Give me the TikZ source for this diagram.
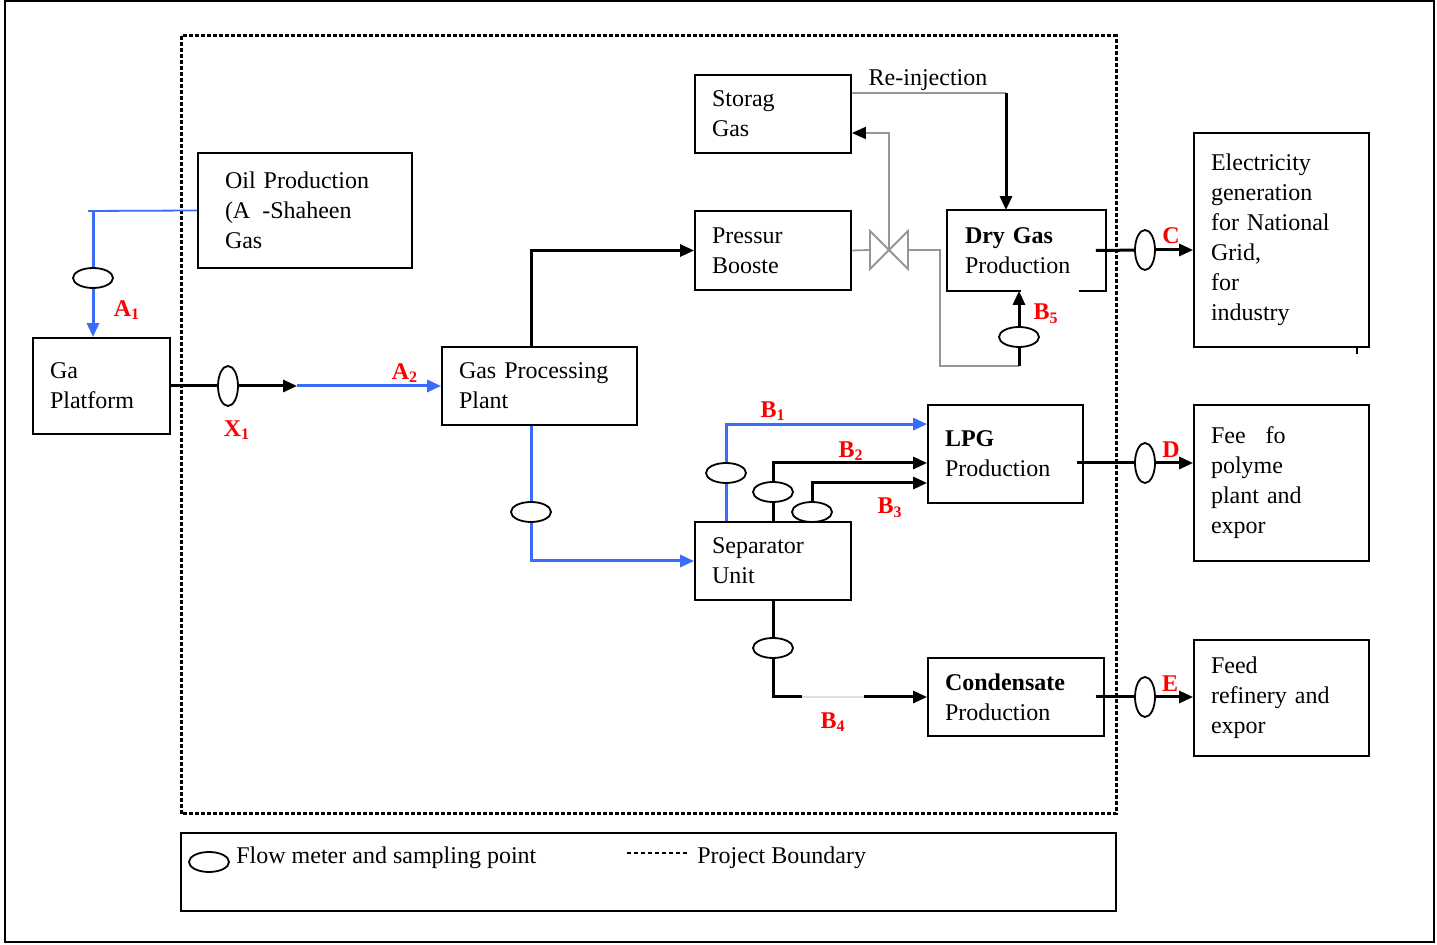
\documentclass[tikz,border=0pt]{standalone}
\usepackage{fontspec}
\setmainfont{Liberation Serif}
\usetikzlibrary{arrows.meta,shapes.geometric}
\definecolor{flowblue}{RGB}{58,108,250}
\definecolor{pipegray}{RGB}{150,150,150}
\tikzset{
  unit/.style={draw, line width=0.9pt, inner xsep=8.5pt, inner ysep=0pt, align=left, font=\fontsize{12}{15}\selectfont},
  meter/.style={draw, ellipse, line width=0.9pt, fill=white, inner sep=0pt, minimum width=20pt, minimum height=10pt},
  vmeter/.style={meter, minimum width=10pt, minimum height=20pt},
  flow/.style={line width=1.5pt},
  flowtip/.style={-{Triangle[length=7pt,width=6pt]}},
  blueflow/.style={flow, flowblue},
  pipe/.style={line width=0.9pt, pipegray},
  tag/.style={text=red, font=\bfseries\fontsize{12}{14}\selectfont, inner sep=0pt},
  boundary/.style={line width=1.5pt, dash pattern=on 2pt off 1pt}
}
\begin{document}
\begin{tikzpicture}[x=0.5pt,y=-0.5pt]
  \useasboundingbox (0,0) rectangle (1437,945);
  \draw[line width=0.9pt] (5,1) rectangle (1434,942);
  \draw[boundary] (181,36) rectangle (1116,814);

  % units
  \node[unit, inner xsep=13.5pt, minimum width=107pt, minimum height=57.5pt, text width=80pt] (oil) at (305,210.5) {Oil Production\\(A\hspace{6pt}-Shaheen\\Gas};
  \node[unit, minimum width=68.5pt, minimum height=48pt, text width=51.5pt] (ga) at (101.5,386) {Ga\\Platform};
  \node[unit, minimum width=97.5pt, minimum height=39pt, text width=80.5pt] (gpp) at (539.5,386) {Gas Processing\\Plant};
  \node[unit, minimum width=78pt, minimum height=39pt, text width=61pt] (storag) at (773,114) {Storag\\Gas};
  \node[unit, minimum width=78pt, minimum height=39.5pt, text width=61pt] (booster) at (773,250.5) {Pressur\\Booste};
  \node[unit, draw=none, minimum width=78.5pt, minimum height=39.5pt, text width=61.5pt] (dry) at (1026.5,250.5) {\textbf{Dry Gas}\\Production};
  \draw[line width=0.9pt] ([xshift=-3pt]dry.south) -- (dry.south west) -- (dry.north west) -- (dry.north east) -- (dry.south east) -- ++(-13.5pt,0);
  \node[unit, minimum width=77.5pt, minimum height=49pt, text width=60.5pt] (lpg) at (1005.5,454) {\textbf{LPG}\\Production\\{}};
  \node[unit, minimum width=78pt, minimum height=39pt, text width=61pt] (sep) at (773,561) {Separator\\Unit};
  \node[unit, minimum width=88pt, minimum height=39pt, text width=71pt] (cond) at (1016,697) {\textbf{Condensate}\\Production};
  \node[unit, minimum width=87.5pt, minimum height=107pt, text width=70.5pt] (elec) at (1281.5,240) {Electricity\\generation\\for National\\Grid,\\for\\industry};
  \draw[line width=0.7pt] (1357,347) -- (1357,354);
  \node[unit, minimum width=87.5pt, minimum height=78pt, text width=70.5pt] (fee) at (1281.5,483) {Fee\hspace{10pt}fo\\polyme\\plant and\\expor};
  \node[unit, minimum width=87.5pt, minimum height=58pt, text width=70.5pt] (feed) at (1281.5,698) {Feed\\refinery and\\expor};

  % flow meters
  \node[meter] (m1) at (93,278) {};
  \node[vmeter] (mx1) at (228,386) {};
  \node[meter] (mg) at (531,512) {};
  \node[meter] (mb1) at (726,473) {};
  \node[meter] (mb2) at (773,492) {};
  \node[meter] (mb3) at (812,512) {};
  \node[meter] (mb4) at (773,648) {};
  \node[meter] (mb5) at (1019,337) {};
  \node[vmeter] (mc) at (1145,250) {};
  \node[vmeter] (md) at (1145,463) {};
  \node[vmeter] (me) at (1145,697) {};

  \coordinate (oilend) at (88,211);
  \coordinate (a1top) at (93,211);
  \coordinate (x1mid) at (297,386);
  \coordinate (valve) at (889,250);
  \coordinate (vl) at (870,250);
  \coordinate (vr) at (908,250);
  \coordinate (valveup) at (889,133);
  \coordinate (reinj) at (1006,93);
  \coordinate (b5bend) at (940,366);
  \coordinate (b5low) at (1019,366);
  \coordinate (b4a) at (802,697);
  \coordinate (b4b) at (864,697);

  % oil and gas feed
  \draw[pipe, flowblue] (oil.west) -- (oilend);
  \draw[blueflow] (a1top) -- (m1);
  \draw[blueflow, flowtip] (m1) -- (m1 |- ga.north);
  \draw[flow] (ga.east) -- (mx1);
  \draw[flow, flowtip] (mx1) -- (x1mid);
  \draw[blueflow, flowtip] (x1mid) -- (gpp.west);
  \draw[flow, flowtip] ([xshift=-4.25pt]gpp.north) |- (booster.west);
  \draw[blueflow] ([xshift=-4.25pt]gpp.south) -- (mg);
  \draw[blueflow, flowtip] (mg) |- (sep.west);

  % booster, valve, storage, dry gas
  \draw[pipe] (booster.east) -- (vl);
  \draw[pipe] (870,231) -- (870,269) -- (908,231) -- (908,269) -- cycle;
  \draw[pipe, -{Triangle[length=7pt,width=6pt,color=black]}] (valve) -- (valveup) -- (storag.east |- valveup);
  \draw[pipe] ([yshift=10.5pt]storag.east) -- (reinj);
  \node[font=\fontsize{12}{14}\selectfont, inner sep=0pt] (reinjlabel) at (928,80) {Re-injection};
  \draw[flow, flowtip] (reinj) -- (reinj |- dry.north);
  \draw[pipe] (vr) -| (b5bend) -- (b5low);
  \draw[flow] (b5low) -- (mb5);
  \draw[flow, flowtip] (mb5) -- (mb5 |- dry.south);

  % separator outlets
  \draw[blueflow] (mb1 |- sep.north) -- (mb1);
  \draw[blueflow, flowtip] (mb1) |- ([yshift=-10pt]lpg.north west);
  \draw[flow] (sep.north) -- (mb2);
  \draw[flow, flowtip] (mb2) |- ([yshift=-4.5pt]lpg.west);
  \draw[flow, flowtip] (mb3) |- ([yshift=-14.5pt]lpg.west);
  \draw[flow] (sep.south) -- (mb4);
  \draw[flow] (mb4) |- (b4a);
  \draw[line width=0.9pt, gray!25] (b4a) -- (b4b);
  \draw[flow, flowtip] (b4b) -- (cond.west);

  % products
  \draw[flow] ([xshift=-5pt]dry.east) -- (mc);
  \draw[flow, flowtip] (mc) -- (elec.west |- mc);
  \draw[flow] ([shift={(-3.5pt,-4.5pt)}]lpg.east) -- (md);
  \draw[flow, flowtip] (md) -- (fee.west |- md);
  \draw[flow] ([xshift=-4.5pt]cond.east) -- (me);
  \draw[flow, flowtip] (me) -- (feed.west |- me);

  % sampling point tags
  \node[tag] (ta1) at (127,310) {A\textsubscript{1}};
  \node[tag] (tx1) at (237,430) {X\textsubscript{1}};
  \node[tag] (ta2) at (405,373) {A\textsubscript{2}};
  \node[tag] (tb1) at (773,411) {B\textsubscript{1}};
  \node[tag] (tb2) at (851,451) {B\textsubscript{2}};
  \node[tag] (tb3) at (890,508) {B\textsubscript{3}};
  \node[tag] (tb4) at (833,722) {B\textsubscript{4}};
  \node[tag] (tb5) at (1046,314) {B\textsubscript{5}};
  \node[tag] (tc) at (1171,236) {C};
  \node[tag] (td) at (1171,450) {D};
  \node[tag] (te) at (1170,684) {E};

  % legend
  \node[unit, minimum width=467.5pt, minimum height=39pt] (legend) at (648.5,872) {};
  \node[meter] (legmeter) at (209,862) {};
  \node[anchor=west, inner sep=0pt, font=\fontsize{12}{14}\selectfont] (legtext) at (236,858) {Flow meter and sampling point};
  \draw[line width=1pt, dash pattern=on 2pt off 1.5pt] (627,853) -- (690,853);
  \node[anchor=west, inner sep=0pt, font=\fontsize{12}{14}\selectfont] (legbound) at (697,858) {Project Boundary};
\end{tikzpicture}
\end{document}
